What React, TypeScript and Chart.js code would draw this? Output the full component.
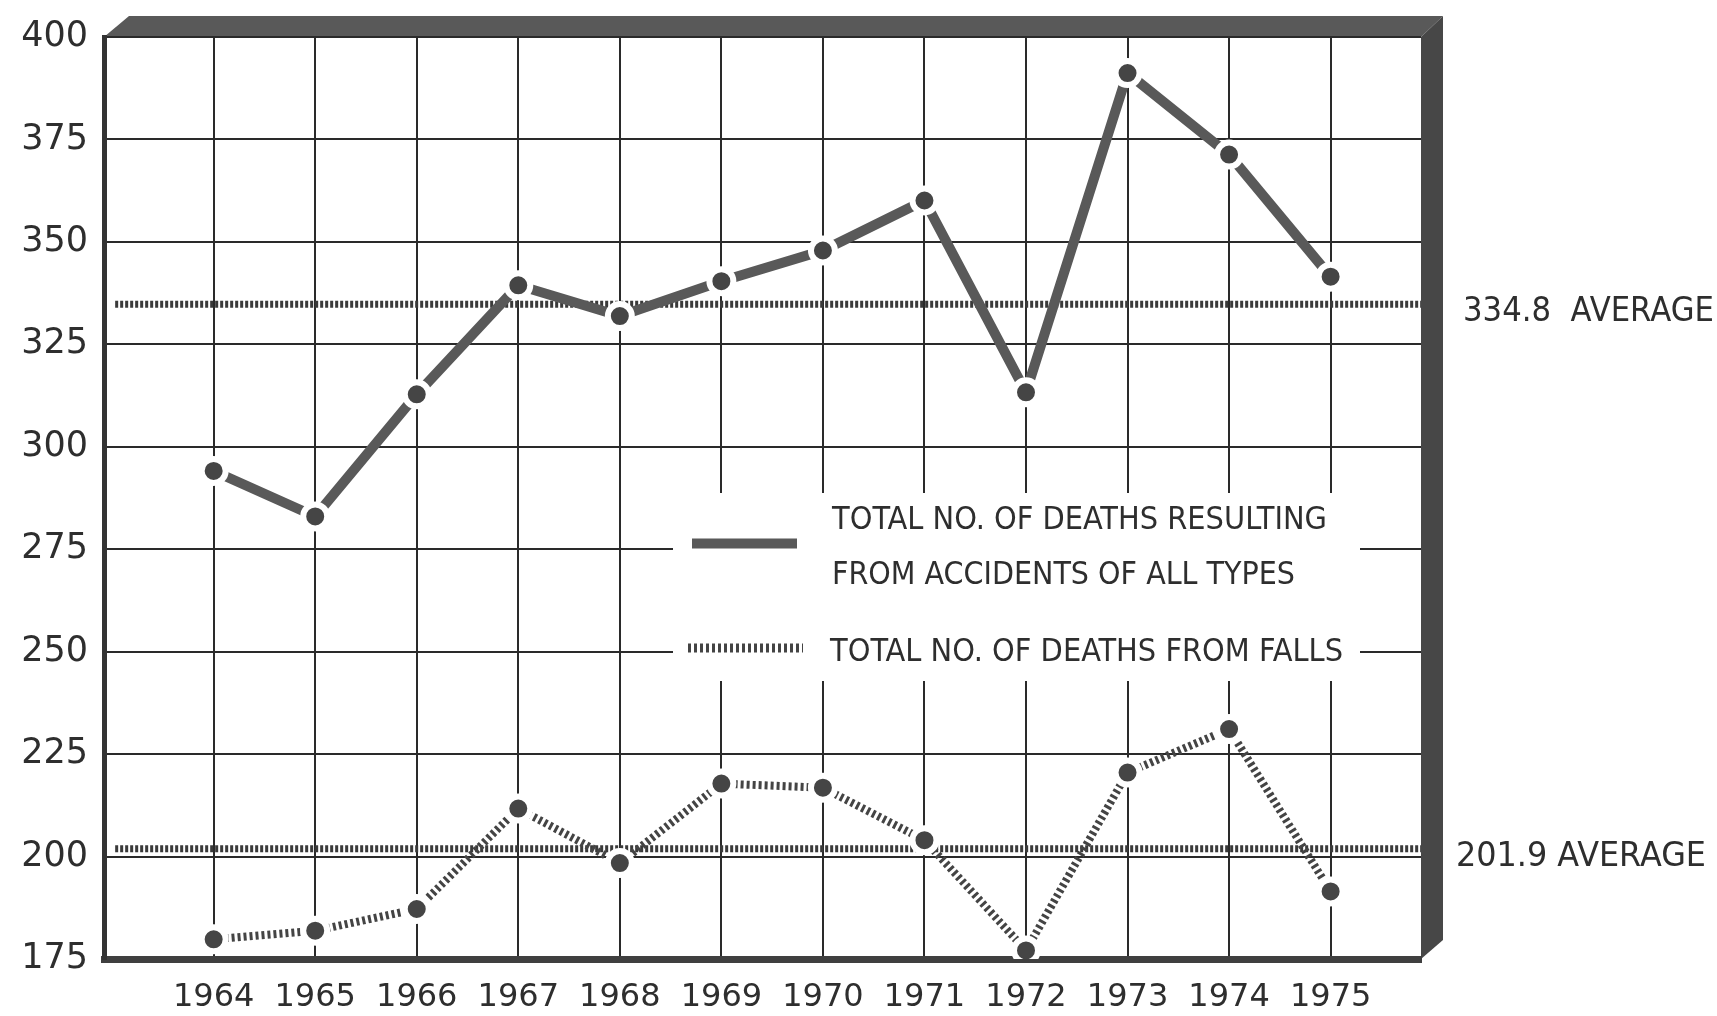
import React, { useEffect, useRef } from "react";
import { Chart, registerables } from "chart.js";

Chart.register(...registerables);

// ---- data ----
const YEARS = [1964, 1965, 1966, 1967, 1968, 1969, 1970, 1971, 1972, 1973, 1974, 1975];
const ACCIDENT_DEATHS = [294.1, 283.0, 312.8, 339.4, 331.9, 340.4, 347.9, 360.1, 313.3, 391.2, 371.3, 341.5];
const FALL_DEATHS = [179.8, 181.9, 187.2, 211.7, 198.4, 217.8, 216.8, 204.0, 177.1, 220.5, 231.1, 191.5];
const AVG_ACCIDENTS = 334.8;
const AVG_FALLS = 201.9;
const Y_TICKS = [175, 200, 225, 250, 275, 300, 325, 350, 375, 400];
const AVG_LABELS = ["334.8  AVERAGE", "201.9 AVERAGE"];
const LEGEND_LINES = [
  "TOTAL NO. OF DEATHS RESULTING",
  "FROM ACCIDENTS OF ALL TYPES",
  "TOTAL NO. OF DEATHS FROM FALLS",
];

const X_MIN = 1962.92;
const X_MAX = 1975.89;
const AVG_START = 1963.03;

const INK = "#2e2e2e";
const LINE_GRAY = "#595959";
const DOT_GRAY = "#444444";

function drawScaledText(
  ctx: CanvasRenderingContext2D,
  text: string,
  x: number,
  y: number,
  targetWidth: number
) {
  const w = ctx.measureText(text).width;
  const sx = w > 0 ? targetWidth / w : 1;
  ctx.save();
  ctx.translate(x, y);
  ctx.scale(sx, 1);
  ctx.fillText(text, 0, 0);
  ctx.restore();
}

const decorPlugin = {
  id: "decor",
  beforeDraw(chart: any) {
    const { ctx, chartArea } = chart;
    const { left, top, right, bottom } = chartArea;
    ctx.save();
    ctx.fillStyle = "#ffffff";
    ctx.fillRect(0, 0, chart.width, chart.height);
    // 3D frame: top band
    ctx.fillStyle = "#595959";
    ctx.beginPath();
    ctx.moveTo(left, top);
    ctx.lineTo(left + 25, top - 21);
    ctx.lineTo(right + 22, top - 21);
    ctx.lineTo(right, top);
    ctx.closePath();
    ctx.fill();
    // right band
    ctx.fillStyle = "#474747";
    ctx.beginPath();
    ctx.moveTo(right, top);
    ctx.lineTo(right + 22, top - 21);
    ctx.lineTo(right + 22, bottom - 19);
    ctx.lineTo(right, bottom);
    ctx.closePath();
    ctx.fill();
    ctx.restore();
  },
  beforeDatasetsDraw(chart: any) {
    const { ctx } = chart;
    ctx.save();
    // white legend panel that interrupts the grid
    ctx.fillStyle = "#ffffff";
    ctx.fillRect(673, 493, 687, 188);

    // legend symbols
    ctx.strokeStyle = LINE_GRAY;
    ctx.lineWidth = 10;
    ctx.lineCap = "butt";
    ctx.beginPath();
    ctx.moveTo(692, 543.5);
    ctx.lineTo(797, 543.5);
    ctx.stroke();

    ctx.strokeStyle = DOT_GRAY;
    ctx.lineWidth = 9;
    ctx.setLineDash([3, 3]);
    ctx.beginPath();
    ctx.moveTo(688, 648);
    ctx.lineTo(803, 648);
    ctx.stroke();
    ctx.setLineDash([]);

    // legend text
    ctx.fillStyle = INK;
    ctx.font = '32px "DejaVu Sans Condensed", "Liberation Sans Narrow", "DejaVu Sans", sans-serif';
    ctx.textBaseline = "middle";
    ctx.textAlign = "left";
    drawScaledText(ctx, LEGEND_LINES[0], 832, 521, 495);
    drawScaledText(ctx, LEGEND_LINES[1], 832, 576, 463);
    drawScaledText(ctx, LEGEND_LINES[2], 830, 653, 513);
    ctx.restore();
  },
  afterDraw(chart: any) {
    const { ctx, scales } = chart;
    const y = scales.y;
    ctx.save();
    ctx.fillStyle = INK;
    ctx.font = '34px "DejaVu Sans", sans-serif';
    ctx.textBaseline = "middle";
    ctx.textAlign = "left";
    drawScaledText(ctx, AVG_LABELS[0], 1463, y.getPixelForValue(AVG_ACCIDENTS) + 8, 251);
    drawScaledText(ctx, AVG_LABELS[1], 1456, y.getPixelForValue(AVG_FALLS) + 8, 250);
    ctx.restore();
  },
};

export default function App() {
  const ref = useRef<HTMLCanvasElement>(null);

  useEffect(() => {
    if (!ref.current) return;
    const pointStyle = {
      pointRadius: 12,
      pointHoverRadius: 12,
      pointBackgroundColor: "#454545",
      pointBorderColor: "#ffffff",
      pointBorderWidth: 6,
      pointHoverBorderWidth: 6,
    };
    const chart = new Chart(ref.current, {
      type: "line",
      data: {
        datasets: [
          {
            label: "accidents",
            data: YEARS.map((x, i) => ({ x, y: ACCIDENT_DEATHS[i] })),
            borderColor: LINE_GRAY,
            borderWidth: 10,
            borderCapStyle: "butt",
            tension: 0,
            order: 1,
            ...pointStyle,
          },
          {
            label: "falls",
            data: YEARS.map((x, i) => ({ x, y: FALL_DEATHS[i] })),
            borderColor: DOT_GRAY,
            borderWidth: 8,
            borderDash: [3, 3],
            borderCapStyle: "butt",
            tension: 0,
            order: 2,
            ...pointStyle,
          },
          {
            label: "avg accidents",
            data: [
              { x: AVG_START, y: AVG_ACCIDENTS },
              { x: X_MAX, y: AVG_ACCIDENTS },
            ],
            borderColor: "#3a3a3a",
            borderWidth: 7,
            borderDash: [3, 2],
            borderCapStyle: "butt",
            pointRadius: 0,
            order: 3,
          },
          {
            label: "avg falls",
            data: [
              { x: AVG_START, y: AVG_FALLS },
              { x: X_MAX, y: AVG_FALLS },
            ],
            borderColor: "#3a3a3a",
            borderWidth: 7,
            borderDash: [3, 2],
            borderCapStyle: "butt",
            pointRadius: 0,
            order: 3,
          },
        ],
      } as any,
      options: {
        responsive: false,
        animation: false,
        events: [],
        layout: { padding: { top: 33, right: 296, left: 0, bottom: 0 } },
        plugins: {
          legend: { display: false },
          tooltip: { enabled: false },
        },
        scales: {
          x: {
            type: "linear",
            min: X_MIN,
            max: X_MAX,
            afterBuildTicks: (scale: any) => {
              scale.ticks = YEARS.map((v) => ({ value: v }));
            },
            afterFit: (scale: any) => {
              scale.height = 57;
            },
            grid: { color: "#2a2a2a", lineWidth: 2, drawTicks: false },
            border: { display: true, color: "#3f3f3f", width: 7 },
            ticks: {
              padding: 19,
              color: INK,
              font: { family: '"DejaVu Sans", sans-serif', size: 32 },
              callback: (v: any) => String(v),
              maxRotation: 0,
              autoSkip: false,
            },
          },
          y: {
            type: "linear",
            min: 175,
            max: 400,
            afterBuildTicks: (scale: any) => {
              scale.ticks = Y_TICKS.map((v) => ({ value: v }));
            },
            afterFit: (scale: any) => {
              scale.width = 104;
            },
            grid: { color: "#2a2a2a", lineWidth: 2, drawTicks: false },
            border: { display: true, color: "#333333", width: 5 },
            ticks: {
              padding: 16,
              color: INK,
              font: { family: '"DejaVu Sans", sans-serif', size: 35 },
              callback: (v: any) => String(v),
            },
          },
        },
      } as any,
      plugins: [decorPlugin],
    });
    return () => chart.destroy();
  }, []);

  return (
    <div style={{ position: "absolute", left: 0, top: 0, width: 1717, height: 1016, background: "#ffffff" }}>
      <canvas ref={ref} width={1717} height={1016} style={{ display: "block" }} />
    </div>
  );
}
